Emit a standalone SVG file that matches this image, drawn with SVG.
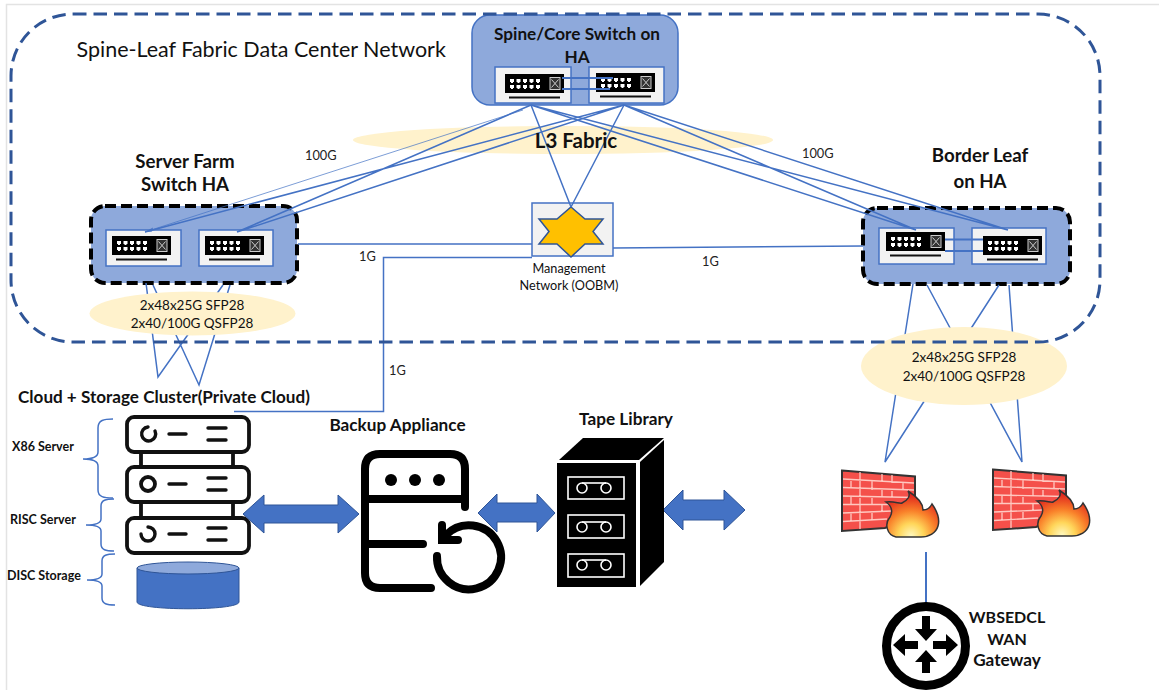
<svg xmlns="http://www.w3.org/2000/svg" width="1159" height="690" viewBox="0 0 1159 690">
<style>
text{font-family:Lato,"Liberation Sans",sans-serif;fill:#111}
.b{font-weight:700}
.h{font-size:17.200px;font-weight:700;text-anchor:middle}
.hl{font-size:18.700px;font-weight:700;text-anchor:middle}
.s{font-size:12.800px;fill:#222}
.e{font-size:13.500px;text-anchor:middle}
.lab{font-size:12.500px;font-weight:700}
.node{fill:#8EA9DB}
.ha{stroke:#000;stroke-width:4;stroke-dasharray:11 5}
.inner{fill:#F2F2F2;stroke:#4472C4;stroke-width:1.5}
.link{fill:none;stroke:#4472C4;stroke-width:1.5}
.thin{fill:none;stroke:#4472C4;stroke-width:.7}
.link2{fill:none;stroke:#4472C4;stroke-width:2}
.brace{fill:none;stroke:#4472C4;stroke-width:1.5}
.amber{fill:#FFF2CC}
.dbl{fill:#4472C4;stroke:#2F5597;stroke-width:1}
.srv{fill:none;stroke:#111;stroke-width:3.8}
.bar{fill:none;stroke:#111;stroke-width:3.4;stroke-linecap:round}
.bk{fill:none;stroke:#000;stroke-width:8;stroke-linecap:round}
.slot{fill:none;stroke:#fff;stroke-width:1.6}
</style>
<defs>
<g id="sw">
<rect x="0" y="0" width="59" height="19" fill="#000"/>
<g fill="#fff">
<path d="M5 5h4v3h-1v1h-2v-1h-1zM11.500 5h4v3h-1v1h-2v-1h-1zM18 5h4v3h-1v1h-2v-1h-1zM24.500 5h4v3h-1v1h-2v-1h-1zM31 5h4v3h-1v1h-2v-1h-1z"/>
<path d="M5 11h4v3h-1v1h-2v-1h-1zM11.500 11h4v3h-1v1h-2v-1h-1zM18 11h4v3h-1v1h-2v-1h-1zM24.500 11h4v3h-1v1h-2v-1h-1zM31 11h4v3h-1v1h-2v-1h-1z"/>
</g>
<rect x="45" y="3.500" width="10" height="12" fill="#333" stroke="#ccc" stroke-width="1"/>
<path d="M46.500 5.500l7 8M53.500 5.500l-7 8" stroke="#ccc" stroke-width="1"/>
<rect x="4" y="22.500" width="51" height="2" fill="#111"/>
</g>
<radialGradient id="fl" gradientUnits="userSpaceOnUse" cx="69" cy="66" r="42">
<stop offset="0" stop-color="#FFF9C0"/><stop offset=".3" stop-color="#FFD65A"/><stop offset=".6" stop-color="#F9812A"/><stop offset="1" stop-color="#DF1F1C"/>
</radialGradient>
<g id="fw">
<path d="M0 .5L73 6.500V45L43 58L0 61Z" fill="#F4504A" stroke="#333" stroke-width="2"/>
<path d="M1 9L72 13M1 17.500L72 20M1 26L72 27.500M1 34.500L60 34.500M1 43L50 41M1 51.500L45 49M18 2V59M9 9V17.500M9 26V34.500M9 43V51.500M30 11V20M30 28V35M30 43V50M40 4V12M40 20V27M50 5V13M50 21V28M61 13V20M40 35V42" fill="none" stroke="#FFC8C0" stroke-width="1.300"/>
<path d="M54 67C45 65 42 54 48 47C51 42 50 36 44 32C52 31 58 34 60 33C66 30 69 26 66 21C74 26 81 32 81 40C85 40 88 38 90 34C95 41 98 49 96 56C94 63 87 67 79 67Z" fill="url(#fl)" stroke="#333" stroke-width="1.500"/>
</g>
</defs>
<path d="M6.500 690V4.500H1159" fill="none" stroke="#E3E3E3" stroke-width="1.500"/>

<g id="l3-fabric"><ellipse class="amber" cx="563" cy="140" rx="210" ry="14"/></g>
<text x="76.500" y="57" font-size="21.500" id="title">Spine-Leaf Fabric Data Center Network</text>

<g id="spine">
<rect class="node" x="472" y="15" width="206" height="90" rx="18" stroke="#4472C4" stroke-width="1.500"/>
<text class="h" x="577" y="40">Spine/Core Switch on</text>
<text class="h" x="577" y="63">HA</text>
<rect class="inner" x="495" y="67" width="76" height="36"/>
<rect class="inner" x="589" y="67" width="75" height="36"/>
<use href="#sw" x="505" y="74"/>
<use href="#sw" x="596" y="73"/>
</g>

<g id="server-farm">
<text class="hl" x="185" y="168">Server Farm</text>
<text class="hl" x="185" y="191">Switch HA</text>
<rect class="node ha" x="91" y="206" width="206" height="77" rx="14"/>
<rect class="inner" x="106" y="230" width="75" height="36"/>
<rect class="inner" x="199" y="230" width="74" height="36"/>
<use href="#sw" x="112" y="236"/>
<use href="#sw" x="205" y="236"/>
</g>

<g id="border-leaf">
<text class="hl" x="980" y="162">Border Leaf</text>
<text class="hl" x="980" y="188">on HA</text>
<rect class="node ha" x="863" y="208" width="207" height="76" rx="14"/>
<rect class="inner" x="879" y="228" width="75" height="36"/>
<rect class="inner" x="972" y="228" width="74" height="36"/>
<use href="#sw" x="886" y="232"/>
<use href="#sw" x="983" y="236"/>
</g>

<g id="management">
<rect x="532" y="203" width="81" height="53" fill="#F2F2F2" stroke="#4472C4" stroke-width="1.500"/>
<path d="M571 207L585 219H603L593 231.500L603 244H585L571 257L557 244H539L549 231.500L539 219H557Z" fill="#FFC000" stroke="#2F5597" stroke-width="1.500"/>
<text x="569" y="273" font-size="12.700" text-anchor="middle" fill="#333">Management</text>
<text x="569" y="290" font-size="12.700" text-anchor="middle" fill="#333">Network (OOBM)</text>
</g>

<g id="connectors">
<path class="thin" d="M523 110L145 232"/>
<path class="link" d="M531 105L237 232M624 105L145 232M624 105L237 232"/>
<path d="M145 232l8-4.500l-1 4z" fill="#4472C4"/>
<path class="link" d="M531 105L571 207M624 105L571 207"/>
<path class="link" d="M531 105L916 230M624 105L916 230M531 105L1008 230M624 105L1008 230"/>
<path class="link2" d="M562 78H613M562 89H610M945 239.500H983M945 251H983"/>
<path class="link" d="M298 244H532M613 248L863 246M234 411.500H383.500V257.500H532"/>
<path class="link" d="M146 283L158 377L223 285M153 285L199 385L230 285"/>
<path class="link" d="M913 284L885 462L999 285M927 285L1022 462L1009 285"/>
<path class="link2" d="M926 552V603"/>
</g>

<g id="ellipse-server"><ellipse class="amber" cx="192.500" cy="313.500" rx="103" ry="22"/>
<text class="e" x="192" y="310">2x48x25G SFP28</text>
<text class="e" x="192" y="328">2x40/100G QSFP28</text></g>
<g id="ellipse-border"><ellipse class="amber" cx="964" cy="366" rx="103" ry="39"/>
<text class="e" x="964" y="362">2x48x25G SFP28</text>
<text class="e" x="964" y="381">2x40/100G QSFP28</text></g>

<rect id="fabric-boundary" x="11" y="14" width="1089" height="328" rx="62" fill="none" stroke="#2F5597" stroke-width="3" stroke-dasharray="13.500 7"/>
<text x="576" y="148" font-size="20.500" text-anchor="middle" class="b" id="l3-label">L3 Fabric</text>

<text class="s" x="305" y="160">100G</text>
<text class="s" x="802" y="158">100G</text>
<text class="s" x="359" y="261">1G</text>
<text class="s" x="702" y="266">1G</text>
<text class="s" x="389" y="375">1G</text>

<text class="b" x="18" y="403" font-size="17.100">Cloud + Storage Cluster(Private Cloud)</text>

<g id="cluster">
<rect class="srv" x="127" y="417" width="122" height="35" rx="7"/>
<rect class="srv" x="127" y="467" width="122" height="35" rx="7"/>
<rect class="srv" x="127" y="518" width="122" height="35" rx="7"/>
<path class="srv" d="M141 452V467M233 452V467M141 502V518M233 502V518"/>
<path class="bar" d="M155 431A7 7 0 1 1 148 427M169 434H186M208 428H226M208 440H226"/>
<circle class="srv" cx="148" cy="484" r="7"/>
<path class="bar" d="M169 484H186M208 478H226M208 490H226"/>
<path class="bar" d="M148 527A7 7 0 1 1 141 534M169 534H186M208 528H226M208 540H226"/>
<path d="M137 568V602C137 611 239 611 239 602V568Z" fill="#4472C4" stroke="#2F5597"/>
<ellipse cx="188" cy="568" rx="51" ry="6" fill="#8EA9DB" stroke="#2F5597"/>
<path class="brace" d="M113 419C104 419 98 420 98 428V452C98 457 93 459 83 459C93 459 98 461 98 466V490C98 497 104 498 113 498"/>
<path class="brace" d="M114 499C106 499 101 500 101 506V519C101 523 96 525 86 525C96 525 101 527 101 531V544C101 550 106 551 114 551"/>
<path class="brace" d="M115 554C107 554 102 555 102 561V574C102 578 97 580 87 580C97 580 102 582 102 586V598C102 604 107 605 115 605"/>
<text class="lab" x="12" y="451">X86 Server</text>
<text class="lab" x="10" y="524">RISC Server</text>
<text class="lab" x="7" y="580">DISC Storage</text>
</g>

<path id="arrow-1" class="dbl" d="M243 514L264 495V505H338V495L359 514L338 533V523H264V533Z"/>
<path id="arrow-2" class="dbl" d="M478 513L497 494V503H537V494L555 513L537 532V522H497V532Z"/>
<path id="arrow-3" class="dbl" d="M663 510L683 490V500H724V490L745 510L724 530V520H683V530Z"/>

<g id="backup">
<text class="b" x="397.500" y="431" font-size="17.200" text-anchor="middle">Backup Appliance</text>
<path class="bk" d="M431 588H380Q365 588 365 573V469Q365 454 380 454H450Q465 454 465 469V507M365 499H465M365 544H423"/>
<circle cx="391" cy="480" r="6"/><circle cx="415" cy="480" r="6"/><circle cx="439" cy="480" r="6"/>
<path class="bk" d="M437 556A32 32 0 1 0 446 535M442 525V540H458"/>
</g>

<g id="tape">
<text class="b" x="626" y="425" font-size="17.200" text-anchor="middle">Tape Library</text>
<path d="M559 460L583 438H664L639 460Z" fill="#000"/>
<path d="M640 462L664 440V562L640 586Z" fill="#000"/>
<rect x="557" y="463" width="79" height="124" fill="#000"/>
<g class="slot">
<rect x="568" y="477" width="56" height="22"/><circle cx="582" cy="488" r="5"/><circle cx="606" cy="488" r="5"/><path d="M582 483H606"/>
<rect x="568" y="515" width="56" height="23"/><circle cx="582" cy="527" r="5"/><circle cx="606" cy="527" r="5"/><path d="M582 522H606"/>
<rect x="568" y="554" width="56" height="23"/><circle cx="582" cy="565" r="5"/><circle cx="606" cy="565" r="5"/><path d="M582 560H606"/>
</g>
</g>

<use id="firewall-1" href="#fw" x="842" y="470"/>
<use id="firewall-2" href="#fw" x="993" y="469"/>

<g id="wan-gateway">
<circle cx="926" cy="646" r="39.500" fill="#fff" stroke="#000" stroke-width="9"/>
<path d="M922 616H930V629H937L926 641L915 629H922Z"/>
<path d="M922 673H930V662H937L926 650L915 662H922Z"/>
<path d="M918 641V649H905V656L893 645L905 634V641Z"/>
<path d="M933 641V649H946V656L958 645L946 634V641Z"/>
<text class="h" x="1007" y="623" style="font-size:16px">WBSEDCL</text>
<text class="h" x="1007" y="645" style="font-size:16px">WAN</text>
<text class="h" x="1007" y="666">Gateway</text>
</g>
</svg>
